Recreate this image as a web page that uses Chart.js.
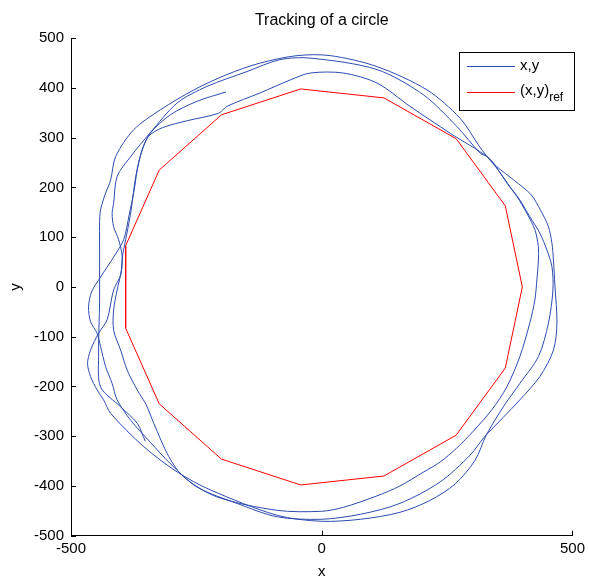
<!DOCTYPE html>
<html>
<head>
<meta charset="utf-8">
<title>Tracking of a circle</title>
<script src="https://cdn.jsdelivr.net/npm/chart.js@4.4.1/dist/chart.umd.min.js"></script>
<style>
  html, body { margin: 0; padding: 0; background: #fff; }
  #plot { display: block; }
</style>
</head>
<body>
<canvas id="plot" width="589" height="581"></canvas>
<script>
const trackX = [
  -191, -249, -302, -342, -358, -368, -374, -384, -395, -415, -441, -459, -465, -461, -448, -441, -431, -418, -408, -381,
  -342, -302, -249, -169, -89, -1, 77, 156, 236, 296, 324, 362, 395, 435, 462, 469, 465, 462, 459, 452,
  437, 417, 384, 349, 330, 316, 269, 203, 110, -23, -83, -149, -229, -288, -342, -381, -408, -415, -418, -415,
  -405, -398, -401, -415, -428, -445, -461, -467, -461, -448, -435, -421, -355, -288, -222, -89, -1, 77, 156, 216,
  266, 306, 328, 362, 395, 432, 452, 461, 459, 449, 435, 415, 395, 375, 356, 332, 256, 176, 110, 43,
  -23, -63, -123, -189, -206, -269, -318, -346, -362, -372, -380, -389, -397, -400, -408, -415, -415, -401, -388, -368,
  -350, -335, -305, -275, -209, -89, -1, 43, 110, 156, 203, 236, 269, 302, 339, 369, 395, 415, 425, 429,
  432, 432, 425, 409, 389, 369, 352, 328, 312, 276, 210, 110, 17, -49, -123, -189, -255, -322, -375, -411,
  -421, -433, -442, -443, -443, -445, -441, -401, -368, -352
];
const trackY = [
  392, 373, 346, 309, 276, 235, 195, 145, 95, 60, 20, -10, -40, -70, -93, -120, -160, -194, -227, -268,
  -312, -355, -402, -435, -462, -467, -457, -435, -392, -338, -302, -262, -227, -180, -127, -72, 2, 54, 88, 121,
  153, 186, 214, 242, 262, 269, 323, 386, 437, 460, 457, 433, 403, 370, 310, 262, 222, 168, 148, 121,
  95, 61, 24, -6, -66, -93, -127, -154, -180, -207, -227, -254, -321, -372, -408, -459, -471, -467, -453, -429,
  -396, -348, -298, -241, -194, -140, -73, -6, 41, 74, 108, 141, 175, 202, 229, 260, 309, 363, 410, 430,
  430, 416, 390, 363, 349, 334, 320, 302, 262, 215, 155, 105, 64, 30, -6, -46, -87, -127, -167, -207,
  -237, -274, -341, -382, -422, -449, -451, -443, -420, -400, -372, -352, -324, -290, -247, -201, -140, -72, -26, 14,
  54, 81, 115, 148, 182, 209, 235, 264, 286, 339, 396, 443, 465, 465, 450, 427, 396, 356, 316, 262,
  215, 183, 149, 74, -26, -140, -201, -241, -274, -310
];

// reference polygon (x,y)ref
const refX = [400, 366, 268, 124, -42, -200, -324, -391, -391, -324, -200, -42, 124, 268, 366, 400];
const refY = [0, 163, 298, 380, 398, 346, 235, 83, -83, -235, -346, -398, -380, -298, -163, 0];

const xTicks = [-500, 0, 500];
const yTicks = [-500, -400, -300, -200, -100, 0, 100, 200, 300, 400, 500];

const blue = 'rgb(45, 75, 175)';
const red = 'rgb(255, 0, 0)';
const fontFamily = '"Liberation Sans", Arial, Helvetica, sans-serif';

function toPoints(xs, ys) {
  return xs.map((v, i) => ({ x: v, y: ys[i] }));
}

// matlab-like inward ticks plus the boxed legend
const matlabLook = {
  id: 'matlabLook',
  afterDraw(chart) {
    const ctx = chart.ctx;
    const a = chart.chartArea;
    const xs = chart.scales.x;
    const ys = chart.scales.y;
    ctx.save();
    ctx.strokeStyle = '#000';
    ctx.lineWidth = 1;
    ctx.beginPath();
    xTicks.forEach(v => {
      const px = Math.round(xs.getPixelForValue(v)) + 0.5;
      ctx.moveTo(px, a.bottom);
      ctx.lineTo(px, a.bottom - 5);
    });
    yTicks.forEach(v => {
      const py = Math.round(ys.getPixelForValue(v)) + 0.5;
      ctx.moveTo(a.left, py);
      ctx.lineTo(a.left + 5, py);
    });
    ctx.stroke();

    // legend
    ctx.fillStyle = '#fff';
    ctx.fillRect(459, 52, 116, 59);
    ctx.strokeStyle = '#000';
    ctx.strokeRect(459.5, 52.5, 115, 58);
    ctx.beginPath();
    ctx.strokeStyle = blue;
    ctx.moveTo(467, 66.5);
    ctx.lineTo(515, 66.5);
    ctx.stroke();
    ctx.beginPath();
    ctx.strokeStyle = red;
    ctx.moveTo(467, 92.5);
    ctx.lineTo(515, 92.5);
    ctx.stroke();
    ctx.fillStyle = '#000';
    ctx.textBaseline = 'middle';
    ctx.textAlign = 'left';
    ctx.font = '15px ' + fontFamily;
    ctx.fillText('x,y', 520, 66);
    ctx.fillText('(x,y)', 520, 91);
    const w = ctx.measureText('(x,y)').width;
    ctx.font = '12px ' + fontFamily;
    ctx.fillText('ref', 520 + w, 98);
    ctx.restore();
  }
};

const tickFont = { family: fontFamily, size: 15 };

new Chart(document.getElementById('plot'), {
  type: 'scatter',
  data: {
    datasets: [
      {
        label: 'x,y',
        data: toPoints(trackX, trackY),
        showLine: true,
        borderColor: blue,
        borderWidth: 1,
        pointRadius: 0,
        fill: false,
        tension: 0.3,
        order: 2
      },
      {
        label: '(x,y)ref',
        data: toPoints(refX, refY),
        showLine: true,
        borderColor: red,
        borderWidth: 1,
        pointRadius: 0,
        fill: false,
        tension: 0,
        order: 1
      }
    ]
  },
  options: {
    responsive: false,
    animation: false,
    devicePixelRatio: 1,
    layout: { padding: { top: 0, right: 16, bottom: 0, left: 0 } },
    plugins: {
      legend: { display: false },
      tooltip: { enabled: false },
      title: {
        display: true,
        fullSize: false,
        text: 'Tracking of a circle',
        color: '#000',
        font: { family: fontFamily, size: 16, weight: 'normal' },
        padding: { top: 11, bottom: 8 }
      }
    },
    scales: {
      x: {
        type: 'linear',
        min: -500,
        max: 500,
        afterBuildTicks: s => { s.ticks = xTicks.map(v => ({ value: v })); },
        afterFit: s => { s.height = 45.3; },
        ticks: { color: '#000', font: tickFont, padding: 4, maxRotation: 0, autoSkip: false },
        grid: { display: false, drawTicks: false },
        border: { display: true, color: '#000', width: 1 },
        title: { display: true, text: 'x', color: '#000', font: tickFont, padding: { top: 0, bottom: 0 } }
      },
      y: {
        type: 'linear',
        min: -500,
        max: 500,
        afterBuildTicks: s => { s.ticks = yTicks.map(v => ({ value: v })); },
        afterFit: s => { s.width = 71; },
        ticks: { color: '#000', font: tickFont, padding: 7, autoSkip: false },
        grid: { display: false, drawTicks: false },
        border: { display: true, color: '#000', width: 1 },
        title: { display: true, text: 'y', color: '#000', font: tickFont, padding: { top: 7, bottom: 0 } }
      }
    }
  },
  plugins: [matlabLook]
});
</script>
</body>
</html>
